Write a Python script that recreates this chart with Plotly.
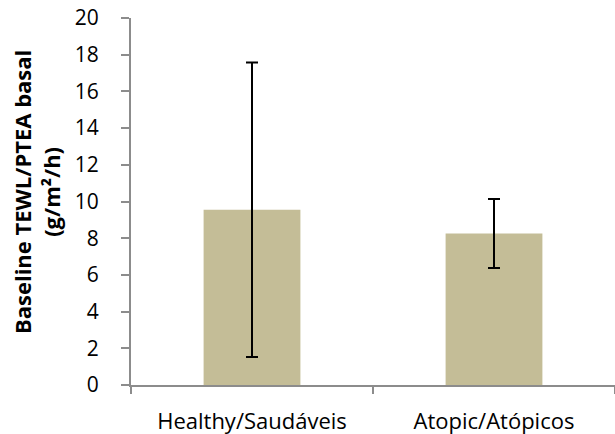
import plotly.graph_objects as go

categories = ["Healthy/Saudáveis", "Atopic/Atópicos"]
values = [9.55, 8.25]
errors = [8.03, 1.88]
y_ticks = [0, 2, 4, 6, 8, 10, 12, 14, 16, 18, 20]

FONT = "'Open Sans', Lato, sans-serif"

fig = go.Figure()
fig.add_trace(go.Bar(
    x=categories, y=values,
    marker=dict(color="#C4BD97", line=dict(width=0)),
    error_y=dict(type="data", array=errors, visible=True,
                 color="black", thickness=2, width=6),
    width=0.4,
))

fig.update_layout(
    width=615, height=434,
    margin=dict(l=131, r=0, t=18, b=49, autoexpand=False),
    paper_bgcolor="white", plot_bgcolor="white",
    showlegend=False,
    font=dict(family=FONT, size=21, color="black"),
    xaxis=dict(
        automargin=False,
        showline=True, linecolor="#8c8c8c", linewidth=2,
        ticks="outside", tickson="boundaries", ticklen=7, tickcolor="#8c8c8c", tickwidth=2,
        showgrid=False, tickfont=dict(size=22, family=FONT),
        ticklabelstandoff=16,
        ticklabeloverflow="allow",
    ),
    yaxis=dict(
        automargin=False,
        range=[0, 20], tickvals=y_ticks,
        showline=True, linecolor="#8c8c8c", linewidth=2,
        ticks="outside", ticklen=8, tickcolor="#8c8c8c", tickwidth=2,
        showgrid=False, zeroline=False,
        tickfont=dict(size=21, family=FONT),
        ticklabelstandoff=18,
        ticklabeloverflow="allow",
    ),
    annotations=[dict(
        text="<b>Baseline TEWL/PTEA basal</b><br><b>(g/m²/h)</b>",
        textangle=-90, xref="paper", yref="paper",
        x=-0.194, y=0.526, xanchor="center", yanchor="middle",
        showarrow=False, font=dict(size=22, family=FONT, color="black"),
    )],
)

fig.write_html("out.html", config={"displayModeBar": False},
               post_script="document.body.style.margin='0';")
